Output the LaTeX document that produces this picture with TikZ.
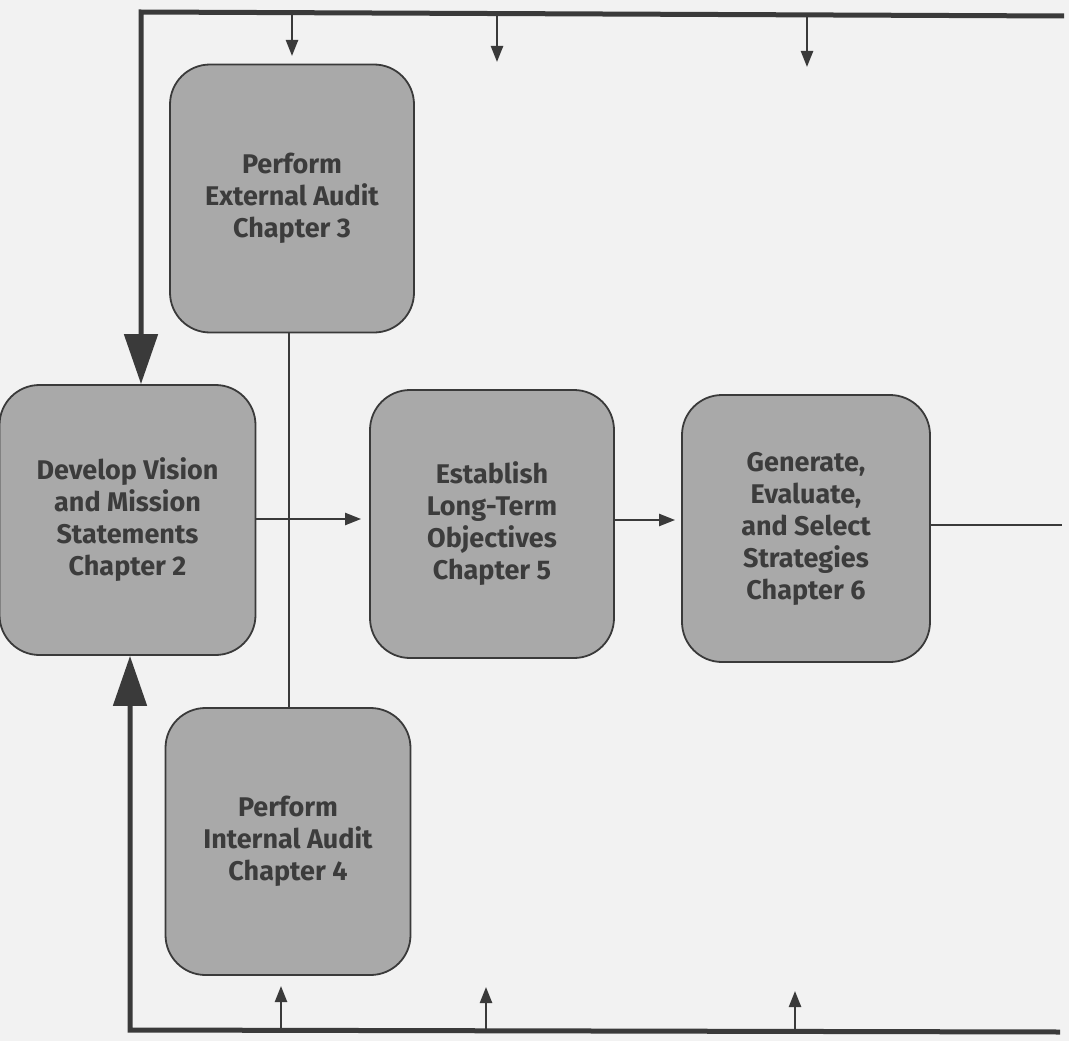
\documentclass[tikz,border=0pt]{standalone}
\usepackage{fontspec}
\setmainfont{Fira Sans}
\usetikzlibrary{arrows.meta,calc}
\definecolor{bg}{HTML}{F2F2F2}
\definecolor{boxfill}{HTML}{A9A9A9}
\definecolor{ink}{HTML}{3A3A3A}
\definecolor{txt}{HTML}{3C3C3C}
\begin{document}
\begin{tikzpicture}[x=1pt,y=-1pt,
  stagebox/.style={draw=ink, line width=1.8pt, fill=boxfill, rounded corners=40pt,
    minimum width=244pt, minimum height=268pt, align=center, text=txt,
    font=\fontsize{27}{32}\selectfont\bfseries, inner sep=0pt},
  thickline/.style={draw=ink, line width=5pt},
  thinline/.style={draw=ink, line width=2.4pt},
  bigtip/.style={-{Triangle[length=50pt,width=33pt]}},
  smalltip/.style={-{Triangle[length=16pt,width=12pt]}}]
\fill[bg] (0,0) rectangle (1069,1041);
\useasboundingbox (0,0) rectangle (1069,1041);

\node[stagebox] (ext) at (292,198.5) {Perform\\External Audit\\Chapter 3};
\node[stagebox, minimum width=256pt, minimum height=270pt] (vis) at (127.5,520) {Develop Vision\\and Mission\\Statements\\Chapter 2};
\node[stagebox] (ltg) at (492,524) {Establish\\Long-Term\\Objectives\\Chapter 5};
\node[stagebox, minimum width=248pt, minimum height=267pt] (str) at (806,528.5) {Generate,\\Evaluate,\\and Select\\Strategies\\Chapter 6};
\node[stagebox, minimum width=245pt, minimum height=267pt] (int) at (288,841.5) {Perform\\Internal Audit\\Chapter 4};

% feedback loops
\coordinate (tl) at (141,12);
\coordinate (tr) at (1064,16);
\coordinate (bl) at (130,1030);
\coordinate (br) at (1060,1032);
\draw[thickline, bigtip, line join=miter] (tr) -- (tl) -- (tl |- vis.north);
\draw[thickline, bigtip, line join=miter] (br) -- (bl) -- (bl |- vis.south);

% small arrows from top line
\coordinate (t1) at (292,13);   \coordinate (t1e) at (292,56);
\coordinate (t2) at (497,14);   \coordinate (t2e) at (497,62);
\coordinate (t3) at (807,15);   \coordinate (t3e) at (807,67);
\draw[thinline, smalltip] (t1) -- (t1e);
\draw[thinline, smalltip] (t2) -- (t2e);
\draw[thinline, smalltip] (t3) -- (t3e);

% small arrows from bottom line
\coordinate (b1) at (281,1029); \coordinate (b1e) at (281,986);
\coordinate (b2) at (486,1030); \coordinate (b2e) at (486,987);
\coordinate (b3) at (795,1031); \coordinate (b3e) at (795,991);
\draw[thinline, smalltip] (b1) -- (b1e);
\draw[thinline, smalltip] (b2) -- (b2e);
\draw[thinline, smalltip] (b3) -- (b3e);

% audit link
\draw[thinline] (ext.south -| 289,0) -- (int.north -| 289,0);

% main flow
\coordinate (v1) at (vis.east |- 0,519);
\draw[thinline, smalltip, shorten >=8pt] (v1) -- (v1 -| ltg.west);
\coordinate (l1) at (ltg.east |- 0,520);
\draw[thinline, smalltip, shorten >=6pt] (l1) -- (l1 -| str.west);
\coordinate (sout) at (1062,525);
\draw[thinline] (str.east |- sout) -- (sout);
\end{tikzpicture}
\end{document}
